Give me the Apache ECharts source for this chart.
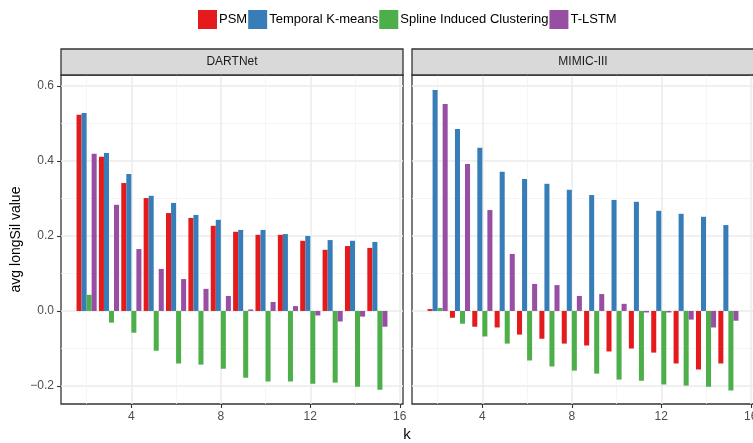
<!DOCTYPE html>
<html><head><meta charset="utf-8">
<script src="https://cdn.jsdelivr.net/npm/echarts@6/dist/echarts.min.js"></script>
<style>html,body{margin:0;padding:0;background:#fff}#c{width:753px;height:443px}</style>
</head><body><div id="c"></div>
<script>
const seriesNames = ['PSM', 'Temporal K-means', 'Spline Induced Clustering', 'T-LSTM'];
const panels = ['DARTNet', 'MIMIC-III'];
const ks = [2, 3, 4, 5, 6, 7, 8, 9, 10, 11, 12, 13, 14, 15];
const yTicks = [-0.2, 0.0, 0.2, 0.4, 0.6];
const yMinor = [-0.1, 0.1, 0.3, 0.5];
const xTicks = [4, 8, 12, 16];
const xMinor = [2, 6, 10, 14];

// DARTNet
const dartPSM    = [0.523, 0.411, 0.341, 0.301, 0.261, 0.248, 0.227, 0.211, 0.203, 0.203, 0.187, 0.163, 0.173, 0.168];
const dartKM     = [0.528, 0.421, 0.365, 0.307, 0.288, 0.256, 0.243, 0.216, 0.216, 0.205, 0.200, 0.189, 0.187, 0.184];
const dartSpline = [0.043, -0.031, -0.058, -0.106, -0.140, -0.143, -0.154, -0.178, -0.188, -0.188, -0.194, -0.191, -0.202, -0.210];
const dartTLSTM  = [0.419, 0.283, 0.165, 0.112, 0.085, 0.059, 0.040, 0.004, 0.024, 0.013, -0.012, -0.028, -0.015, -0.042];
// MIMIC-III
const mimicPSM    = [0.005, -0.018, -0.042, -0.044, -0.063, -0.074, -0.087, -0.092, -0.108, -0.100, -0.111, -0.140, -0.156, -0.140];
const mimicKM     = [0.589, 0.485, 0.435, 0.371, 0.352, 0.339, 0.323, 0.309, 0.296, 0.291, 0.267, 0.259, 0.251, 0.229];
const mimicSpline = [0.008, -0.034, -0.068, -0.087, -0.132, -0.148, -0.159, -0.167, -0.183, -0.186, -0.196, -0.199, -0.202, -0.212];
const mimicTLSTM  = [0.552, 0.392, 0.269, 0.152, 0.072, 0.069, 0.040, 0.045, 0.019, -0.004, -0.004, -0.023, -0.044, -0.026];

const colors = ['#E41A1C', '#377EB8', '#4DAF4A', '#984EA3'];
const panelData = [
  [dartPSM, dartKM, dartSpline, dartTLSTM],
  [mimicPSM, mimicKM, mimicSpline, mimicTLSTM]
];

const FONT = '"Liberation Sans", Arial, sans-serif';
const dodgeWidth = 0.9;
const barW = dodgeWidth / 4;

const grids = [
  {left: 61, top: 75, width: 342, height: 329},
  {left: 412, top: 75, width: 342, height: 329}
].map(g => Object.assign(g, {show: true, backgroundColor: '#fff', borderColor: '#333333', borderWidth: 1.3, containLabel: false, outerBoundsMode: 'none'}));

const fmt = v => (Math.abs(v) < 1e-9 ? '0.0' : v.toFixed(1).replace('-', '\u2212'));

const xAxes = [], yAxes = [];
[0, 1].forEach(gi => {
  xAxes.push({
    type: 'value', gridIndex: gi, min: 0.855, max: 16.145, position: 'bottom',
    axisLine: {show: false, onZero: false},
    axisTick: {show: true, length: 4, lineStyle: {color: '#333', width: 1.1}, customValues: xTicks},
    axisLabel: {show: true, customValues: xTicks, color: '#4d4d4d', fontSize: 12, fontFamily: FONT, margin: 7, hideOverlap: false},
    splitLine: {show: true, lineStyle: {color: '#ebebeb', width: 1.5}},
    minorSplitLine: {show: false}
  });
  xAxes.push({
    type: 'value', gridIndex: gi, min: 0.855, max: 16.145, position: 'top',
    axisLine: {show: false, onZero: false}, axisTick: {show: false, customValues: xMinor},
    axisLabel: {show: false, customValues: xMinor},
    splitLine: {show: true, lineStyle: {color: '#f2f2f2', width: 0.8}}
  });
  yAxes.push({
    type: 'value', gridIndex: gi, min: -0.248, max: 0.629, position: 'left',
    axisLine: {show: false, onZero: false},
    axisTick: {show: gi === 0, length: 4, lineStyle: {color: '#333', width: 1.1}, customValues: yTicks},
    axisLabel: {show: gi === 0, customValues: yTicks, formatter: fmt, color: '#4d4d4d', fontSize: 12, fontFamily: FONT, margin: 7},
    splitLine: {show: true, lineStyle: {color: '#ebebeb', width: 1.5}},
    name: gi === 0 ? 'avg longSil value' : '', nameLocation: 'middle', nameRotate: 90, nameGap: 38,
    nameTextStyle: {color: '#000', fontSize: 14, fontFamily: FONT}
  });
  yAxes.push({
    type: 'value', gridIndex: gi, min: -0.248, max: 0.629, position: 'right',
    axisLine: {show: false, onZero: false}, axisTick: {show: false, customValues: yMinor},
    axisLabel: {show: false, customValues: yMinor},
    splitLine: {show: true, lineStyle: {color: '#f2f2f2', width: 0.8}}
  });
});

const series = [];
[0, 1].forEach(gi => {
  seriesNames.forEach((name, si) => {
    const vals = panelData[gi][si];
    series.push({
      type: 'custom', name: name,
      xAxisIndex: gi * 2, yAxisIndex: gi * 2,
      itemStyle: {color: colors[si]},
      clip: true,
      data: ks.map((k, i) => [k, vals[i]]),
      encode: {x: 0, y: 1},
      renderItem: function (params, api) {
        const k = api.value(0), v = api.value(1);
        const x0 = k - dodgeWidth / 2 + si * barW;
        const p0 = api.coord([x0, 0]);
        const p1 = api.coord([x0 + barW, v]);
        return {
          type: 'rect',
          shape: {x: p0[0], y: Math.min(p0[1], p1[1]), width: p1[0] - p0[0], height: Math.abs(p1[1] - p0[1])},
          style: {fill: colors[si]}
        };
      }
    });
  });
});

const graphics = [];
grids.forEach((g, gi) => {
  graphics.push({
    type: 'rect', z: 10,
    shape: {x: g.left, y: 49, width: g.width, height: 26},
    style: {fill: '#d9d9d9', stroke: '#333333', lineWidth: 1.3}
  });
  graphics.push({
    type: 'text', z: 11,
    x: g.left + g.width / 2, y: 62,
    style: {text: panels[gi], fill: '#1a1a1a', fontSize: 12, fontFamily: FONT, align: 'center', verticalAlign: 'middle'}
  });
});
graphics.push({
  type: 'text', x: 407, y: 435,
  style: {text: 'k', fill: '#000', fontSize: 15, fontFamily: FONT, align: 'center', verticalAlign: 'middle'}
});

const chart = echarts.init(document.getElementById('c'), null, {renderer: 'canvas'});
chart.setOption({
  animation: false,
  backgroundColor: '#fff',
  legend: {
    data: seriesNames.map((n, i) => ({name: n, icon: 'rect', itemStyle: {color: colors[i]}})),
    left: 193, top: 5, itemWidth: 19, itemHeight: 19, itemGap: 1,
    textStyle: {fontSize: 13, fontFamily: FONT, color: '#000', padding: [0, 0, 0, -3]},
    selectedMode: false
  },
  grid: grids,
  xAxis: xAxes,
  yAxis: yAxes,
  series: series,
  graphic: graphics
});
</script></body></html>
